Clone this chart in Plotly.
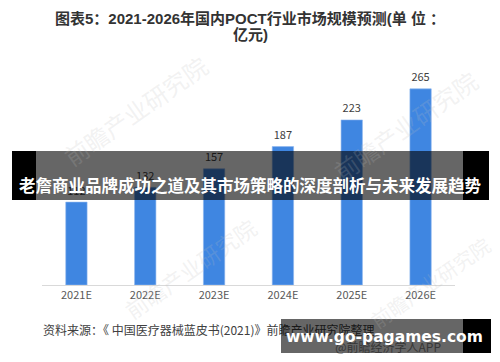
import plotly.graph_objects as go

# ---- data ----
years = ["2021E", "2022E", "2023E", "2024E", "2025E", "2026E"]
market_size = [112, 132, 157, 187, 223, 265]

title_line1 = "图表5：2021-2026年国内POCT行业市场规模预测(单 位 ："
title_line2 = "亿元)"
source_text = "资料来源：《 中国医疗器械蓝皮书(2021)》前瞻产业研究院整理"
app_text = "@前瞻经济学人APP"
banner_text = "老詹商业品牌成功之道及其市场策略的深度剖析与未来发展趋势"
site_text = "www.go-pagames.com"
watermark = "前瞻产业研究院"

W, H = 500, 362
PX0, PX1, PY0, PY1 = 42, 455, 60, 285   # plot area in pixels

CJK = "Noto Sans CJK SC"

fig = go.Figure()
fig.add_trace(go.Bar(
    x=years, y=market_size,
    marker=dict(color="#3F86E1", line=dict(color="#8DB6EE", width=0.6)),
    hoverinfo="skip",
))
# value labels (text trace so they stay under the overlay banner)
fig.add_trace(go.Scatter(
    x=years, y=market_size, mode="markers+text",
    text=[str(v) for v in market_size], textposition="top center",
    marker=dict(size=6, color="rgba(0,0,0,0)"),
    textfont=dict(family=CJK, size=11, color="#404040"),
    cliponaxis=False, hoverinfo="skip", showlegend=False,
))

# texts that sit underneath the overlays (on a full-page pixel axis)
fig.add_trace(go.Scatter(
    x=[43, 441], y=[332, 349],
    mode="text", text=[source_text, app_text],
    textposition=["middle right", "middle left"],
    textfont=dict(family=CJK, size=12, color=["#404040", "#8a8a8a"]),
    xaxis="x2", yaxis="y2", cliponaxis=False, hoverinfo="skip", showlegend=False,
))
# faint watermarks
for (wx, wy, sz) in [(135, 110, 24), (405, 125, 24), (190, 268, 22), (430, 282, 20)]:
    fig.add_annotation(x=wx, y=wy, xref="x2", yref="y2", text=watermark,
                       showarrow=False, textangle=-35,
                       font=dict(family=CJK, size=sz, color="rgba(190,190,190,0.2)"))

fig.update_layout(
    width=W, height=H,
    margin=dict(l=0, r=0, t=0, b=0, autoexpand=False),
    paper_bgcolor="white", plot_bgcolor="rgba(0,0,0,0)",
    showlegend=False, bargap=0.69,
    xaxis=dict(domain=[PX0 / W, PX1 / W], anchor="y", showgrid=False,
               showline=True, linecolor="#D9D9D9", linewidth=1,
               ticks="", tickfont=dict(family=CJK, size=11, color="#595959"),
               automargin=False, fixedrange=True),
    yaxis=dict(domain=[(H - PY1) / H, (H - PY0) / H], anchor="x",
               range=[0, 304], visible=False, fixedrange=True),
    xaxis2=dict(domain=[0, 1], anchor="y2", range=[0, W], visible=False, fixedrange=True),
    yaxis2=dict(domain=[0, 1], anchor="x2", range=[H, 0], visible=False, fixedrange=True),
)

# title (two lines)
for txt, ty in [(title_line1, 18), (title_line2, 34)]:
    fig.add_annotation(x=250, y=ty, xref="x2", yref="y2",
                       text="<b>" + txt + "</b>", showarrow=False,
                       font=dict(family="Liberation Sans, " + CJK, size=15, color="#333333"),
                       align="center", xanchor="center", yanchor="middle")


def rect(x0, x1, y0, y1, color):
    fig.add_shape(type="rect", xref="x2", yref="y2", layer="above",
                  x0=x0, x1=x1, y0=y0, y1=y1, fillcolor=color, line_width=0)


# middle overlay banner
rect(12, 36, 151, 200, "black")
rect(463, 489, 151, 200, "black")
rect(36, 463, 151, 200, "rgba(0,0,0,0.6)")
fig.add_annotation(x=250.5, y=185, xref="x2", yref="y2",
                   text="<b>" + banner_text + "</b>", showarrow=False,
                   font=dict(family=CJK, size=16.5, color="white"),
                   xanchor="center", yanchor="middle")

# bottom banner
rect(463, 491, 319, 353, "black")
rect(281, 463, 319, 353, "rgba(0,0,0,0.6)")
fig.add_annotation(x=384, y=337, xref="x2", yref="y2",
                   text="<b>" + site_text + "</b>", showarrow=False,
                   font=dict(family="DejaVu Sans", size=15.5, color="white"),
                   xanchor="center", yanchor="middle")

fig.write_html("out.html", config={"displayModeBar": False},
               post_script="document.body.style.margin='0px';document.body.style.overflow='hidden';")
